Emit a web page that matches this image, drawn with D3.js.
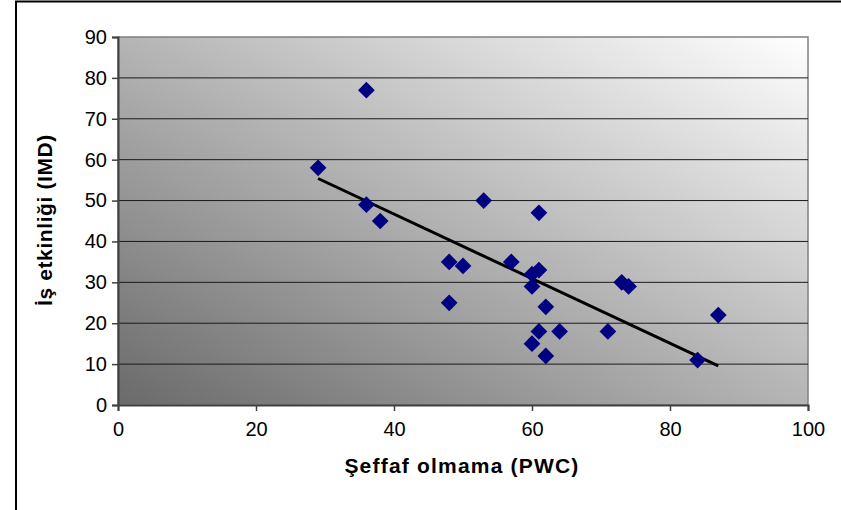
<!DOCTYPE html>
<html>
<head>
<meta charset="utf-8">
<script src="https://cdn.jsdelivr.net/npm/d3@7"></script>
<style>
  body { margin: 0; background: #fff; }
  text { font-family: Arial, "Liberation Sans", sans-serif; fill: #000; }
</style>
</head>
<body>
<svg id="chart" width="841" height="510"></svg>
<script>
// PWC (şeffaf olmama) vs IMD (iş etkinliği)
var pwc = [29, 36, 36, 38, 48, 48, 50, 53, 57, 60, 61, 60, 61, 62, 61, 64, 60, 62, 71, 73, 74, 84, 87];
var imd = [58, 77, 49, 45, 35, 25, 34, 50, 35, 32, 33, 29, 47, 24, 18, 18, 15, 12, 18, 30, 29, 11, 22];
var xTicks = [0, 20, 40, 60, 80, 100];
var yTicks = [0, 10, 20, 30, 40, 50, 60, 70, 80, 90];

var svg = d3.select("#chart");
var pLeft = 118, pRight = 808, pTop = 37, pBottom = 405;

var x = d3.scaleLinear().domain([0, 100]).range([pLeft, pRight]);
var y = d3.scaleLinear().domain([0, 90]).range([pBottom, pTop]);

// chart area frame (goes off the page right and bottom)
svg.append("rect")
    .attr("x", 16).attr("y", 1.5)
    .attr("width", 900).attr("height", 600)
    .attr("fill", "#fff")
    .attr("stroke", "#000").attr("stroke-width", 2);

// plot background gradient
var grad = svg.append("defs").append("linearGradient")
    .attr("id", "bg")
    .attr("x1", 0).attr("y1", 1).attr("x2", 1).attr("y2", 0);
grad.append("stop").attr("offset", "0%").attr("stop-color", "#6a6a6a");
grad.append("stop").attr("offset", "100%").attr("stop-color", "#ffffff");

svg.append("rect")
    .attr("x", pLeft).attr("y", pTop)
    .attr("width", pRight - pLeft).attr("height", pBottom - pTop)
    .attr("fill", "url(#bg)")
    .attr("stroke", "#808080").attr("stroke-width", 1.5);

// gridlines
svg.append("g").selectAll("line")
    .data(yTicks.filter(function(d) { return d > 0 && d < 90; }))
    .enter().append("line")
    .attr("x1", pLeft).attr("x2", pRight)
    .attr("y1", function(d) { return y(d); })
    .attr("y2", function(d) { return y(d); })
    .attr("stroke", "#1a1a1a").attr("stroke-width", 1);

// axes
var xAxis = d3.axisBottom(x).tickValues(xTicks).tickSize(6).tickPadding(11);
var yAxis = d3.axisLeft(y).tickValues(yTicks).tickSize(6).tickPadding(5);

var gx = svg.append("g").attr("transform", "translate(0," + pBottom + ")").call(xAxis);
var gy = svg.append("g").attr("transform", "translate(" + pLeft + ",0)").call(yAxis);

[gx, gy].forEach(function(g) {
    g.select(".domain").attr("stroke", "#404040").attr("stroke-width", 2);
    g.selectAll(".tick line").attr("stroke", "#404040").attr("stroke-width", 1.5);
    g.selectAll(".tick text")
        .attr("font-family", "Arial, 'Liberation Sans', sans-serif")
        .attr("font-size", 20)
        .attr("fill", "#000");
});

// trend line (least squares on the points)
var mx = d3.mean(pwc), my = d3.mean(imd);
var sxy = d3.sum(pwc, function(v, i) { return (v - mx) * (imd[i] - my); });
var sxx = d3.sum(pwc, function(v) { return (v - mx) * (v - mx); });
var slope = sxy / sxx, icpt = my - slope * mx;
var xExt = d3.extent(pwc);

svg.append("line")
    .attr("x1", x(xExt[0])).attr("y1", y(icpt + slope * xExt[0]))
    .attr("x2", x(xExt[1])).attr("y2", y(icpt + slope * xExt[1]))
    .attr("stroke", "#000").attr("stroke-width", 3);

// diamond markers
var diamond = d3.symbol().type(d3.symbolSquare).size(140);
svg.append("g").selectAll("path")
    .data(pwc)
    .enter().append("path")
    .attr("d", diamond)
    .attr("transform", function(d, i) {
        return "translate(" + x(d) + "," + y(imd[i]) + ") rotate(45)";
    })
    .attr("fill", "#000080");

// axis titles
svg.append("text")
    .attr("x", 462).attr("y", 473)
    .attr("text-anchor", "middle")
    .attr("font-size", 21).attr("font-weight", "bold")
    .attr("letter-spacing", 1.2)
    .text("Şeffaf olmama (PWC)");

svg.append("text")
    .attr("transform", "translate(52,220) rotate(-90)")
    .attr("text-anchor", "middle")
    .attr("font-size", 21).attr("font-weight", "bold")
    .attr("letter-spacing", 0.6)
    .text("İş etkinliği (IMD)");
</script>
</body>
</html>
